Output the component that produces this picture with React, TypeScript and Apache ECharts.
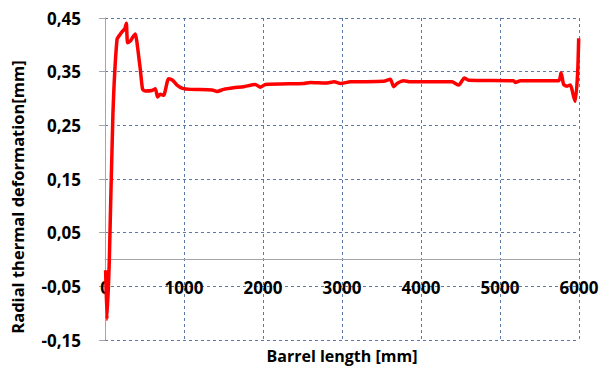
import React, { useEffect, useRef } from "react";
import * as echarts from "echarts";

const xValues = [8, 25, 55, 100, 152, 194, 215, 250, 270, 286, 320, 350, 384, 405, 447, 476, 510, 595, 637, 666, 700, 742, 805, 856, 911, 982, 1080, 1354, 1418, 1501, 1628, 1755, 1903, 1966, 2030, 2514, 2599, 2789, 2903, 2979, 3105, 3527, 3612, 3654, 3697, 3781, 3865, 4393, 4477, 4549, 4603, 5173, 5194, 5258, 5743, 5773, 5806, 5849, 5891, 5933, 5954, 5983, 5996];
const yValues = [-0.02, -0.112, 0.0, 0.27, 0.41, 0.42, 0.424, 0.43, 0.44, 0.404, 0.407, 0.414, 0.42, 0.404, 0.354, 0.317, 0.314, 0.315, 0.318, 0.303, 0.308, 0.306, 0.337, 0.334, 0.325, 0.319, 0.317, 0.316, 0.313, 0.317, 0.32, 0.322, 0.326, 0.321, 0.326, 0.328, 0.33, 0.329, 0.331, 0.328, 0.331, 0.332, 0.336, 0.322, 0.328, 0.333, 0.331, 0.331, 0.325, 0.338, 0.334, 0.333, 0.33, 0.333, 0.333, 0.348, 0.326, 0.323, 0.325, 0.303, 0.295, 0.348, 0.412];

const xTicks = { min: 0, max: 6000, interval: 1000 };
const yTicks = { min: -0.15, max: 0.45, interval: 0.1 };
const xName = "Barrel length [mm]";
const yName = "Radial thermal deformation[mm]";

const FONT = "'Open Sans', 'Noto Sans', sans-serif";
const gridColor = "#5a78a8";

export default function App() {
  const ref = useRef<HTMLDivElement>(null);
  useEffect(() => {
    if (!ref.current) return;
    const chart = echarts.init(ref.current, null, { renderer: "svg" });
    const data = xValues.map((x, i) => [x, yValues[i]]);
    chart.setOption({
      animation: false,
      backgroundColor: "#ffffff",
      grid: { left: 105, right: 22, top: 18, bottom: 27, containLabel: false, outerBoundsMode: "none" },
      graphic: [
        {
          type: "text",
          x: 17,
          y: 197,
          rotation: Math.PI / 2,
          style: {
            text: yName,
            fontFamily: FONT,
            fontWeight: "bold",
            fontSize: 16.5,
            fill: "#000",
            align: "center",
            verticalAlign: "middle",
          },
        },
      ],
      xAxis: {
        type: "value",
        min: xTicks.min,
        max: xTicks.max,
        interval: xTicks.interval,
        name: xName,
        nameLocation: "middle",
        nameGap: 8,
        nameTextStyle: { fontFamily: FONT, fontWeight: "bold", fontSize: 16, color: "#000" },
        axisLine: { show: true, onZero: true, lineStyle: { color: "#a6a6a6", width: 1 } },
        axisTick: { show: false },
        axisLabel: {
          margin: -61,
          fontFamily: FONT,
          fontWeight: "bold",
          fontSize: 17,
          color: "#000",
          formatter: (v: number) => String(Math.round(v)),
        },
        splitLine: { show: true, lineStyle: { color: gridColor, type: [3, 3], width: 1 } },
      },
      yAxis: {
        type: "value",
        min: yTicks.min,
        max: yTicks.max,
        interval: yTicks.interval,
        axisLine: { show: true, lineStyle: { color: "#a6a6a6", width: 1 } },
        axisTick: { show: true, length: 6, lineStyle: { color: "#a6a6a6" } },
        axisLabel: {
          margin: 24,
          fontFamily: FONT,
          fontWeight: "bold",
          fontSize: 17,
          color: "#000",
          formatter: (v: number) => v.toFixed(2).replace(".", ","),
        },
        splitLine: { show: true, lineStyle: { color: gridColor, type: [3, 3], width: 1 } },
      },
      series: [
        {
          type: "line",
          data,
          showSymbol: false,
          smooth: 0.2,
          lineStyle: { color: "#ff0000", width: 3.5 },
          itemStyle: { color: "#ff0000" },
        },
      ],
    });
    return () => chart.dispose();
  }, []);
  return <div ref={ref} style={{ position: "fixed", left: 0, top: 0, width: 601, height: 367 }} />;
}
